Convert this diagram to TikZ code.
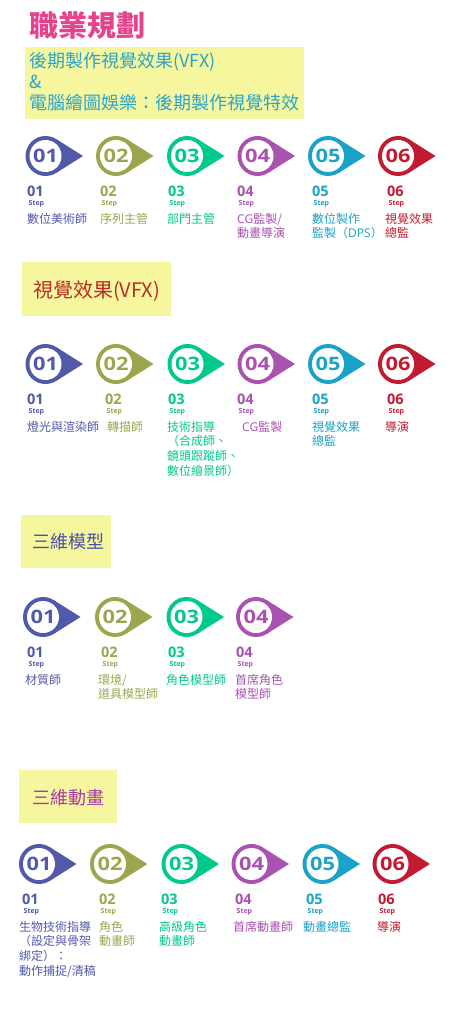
\documentclass[tikz,border=0pt]{standalone}
\usepackage{fontspec}
\newfontfamily\cjk{Noto Sans CJK TC}
\newfontfamily\numf{Open Sans}
\newcommand\lat[1]{{\numf #1}}
\definecolor{cA}{HTML}{5159AA}
\definecolor{cB}{HTML}{9DA64E}
\definecolor{cC}{HTML}{00C98F}
\definecolor{cD}{HTML}{A952B0}
\definecolor{cE}{HTML}{1AA2C8}
\definecolor{cF}{HTML}{C21B31}
\definecolor{hl}{HTML}{F5F69E}
\definecolor{titlepink}{HTML}{E5438D}
\definecolor{vfxteal}{HTML}{2BA4C9}
\definecolor{vfxred}{HTML}{BE2A2A}
\definecolor{modnavy}{HTML}{4850A8}
\definecolor{animplum}{HTML}{A33AA6}
\tikzset{
  ring/.style={circle, minimum size=40pt, inner sep=0pt},
  hole/.style={circle, fill=white, minimum size=32pt, inner sep=0pt},
  bignum/.style={inner sep=0pt, xscale=1.18, font=\numf\bfseries\fontsize{18.5}{18.5}\selectfont},
  lblnum/.style={inner sep=0pt, font=\numf\bfseries\fontsize{14.5}{14.5}\selectfont},
  steplbl/.style={inner sep=0pt, font=\numf\bfseries\fontsize{7}{7}\selectfont},
  job/.style={inner sep=0pt, font=\cjk\fontsize{12}{12}\selectfont},
  hlbox/.style={fill=hl, inner sep=0pt, anchor=north west},
  heading/.style={inner sep=0pt, anchor=base west},
}
% name, circle x, circle y, colour, number, label x, text x, lines
\newcommand\stepitem[8]{%
  \fill[#4] ({#2+10.65},{#3-16.93}) -- ({#2+37.5},#3) -- ({#2+10.65},{#3+16.93}) -- cycle;
  \node[ring, fill=#4] (#1) at (#2,#3) {};
  \node[hole] (#1-in) at (#1) {};
  \node[bignum, text=#4] (#1-n) at (#1) {#5};
  \node[lblnum, text=#4, anchor=west] (#1-l) at (#6,{#3+35}) {#5};
  \node[steplbl, text=#4, anchor=base west] (#1-s) at ({#6+1.5},{#3+49.5}) {Step};
  \foreach \jobline [count=\i] in {#8} {%
    \node[job, text=#4, anchor=base west] (#1-t\i) at (#7,{#3+67+14.7*(\i-1)}) {\jobline};}%
}
\begin{document}
\begin{tikzpicture}[x=1pt,y=-1pt]
\useasboundingbox[fill=white] (0,0) rectangle (470,1024);

% title
\node[inner sep=0pt, anchor=west, text=titlepink, font=\cjk\bfseries\fontsize{29}{29}\selectfont] (title) at (29,25) {職業規劃};

% section 1
\node[hlbox, minimum width=279pt, minimum height=72pt] (box1) at (25,47) {};
\node[heading, text=vfxteal, font=\cjk\fontsize{18}{18}\selectfont] (h1a) at (29,67.5) {後期製作視覺效果(VFX)};
\node[heading, text=vfxteal, font=\cjk\fontsize{18}{18}\selectfont] (h1b) at (29,88.5) {\&};
\node[heading, text=vfxteal, font=\cjk\fontsize{18}{18}\selectfont] (h1c) at (29,110) {電腦繪圖娛樂：後期製作視覺特效};

\stepitem{a1}{45.5}{156}{cA}{01}{27}{27}{數位美術師}
\stepitem{a2}{116}{156}{cB}{02}{100}{100}{序列主管}
\stepitem{a3}{187}{156}{cC}{03}{168}{167}{部門主管}
\stepitem{a4}{257.5}{156}{cD}{04}{237}{237}{\lat{CG}監製/, 動畫導演}
\stepitem{a5}{328}{156}{cE}{05}{312}{312}{數位製作, 監製（\lat{DPS}）}
\stepitem{a6}{398}{156}{cF}{06}{387}{385}{視覺效果, 總監}

% section 2
\node[hlbox, minimum width=149pt, minimum height=54pt] (box2) at (22,262) {};
\node[heading, text=vfxred, font=\cjk\fontsize{20}{20}\selectfont] (h2) at (33,297.6) {視覺效果(VFX)};

\stepitem{b1}{45.5}{364}{cA}{01}{27}{27}{燈光與渲染師}
\stepitem{b2}{116}{364}{cB}{02}{105}{107}{轉描師}
\stepitem{b3}{187.5}{364}{cC}{03}{168}{167}{技術指導, （合成師、, 鏡頭跟蹤師、, 數位繪景師）}
\stepitem{b4}{257.5}{364}{cD}{04}{237}{242}{\lat{CG}監製}
\stepitem{b5}{328}{364}{cE}{05}{312}{312}{視覺效果, 總監}
\stepitem{b6}{398}{364}{cF}{06}{387}{385}{導演}

% section 3
\node[hlbox, minimum width=90pt, minimum height=53pt] (box3) at (21,515) {};
\node[heading, text=modnavy, font=\cjk\fontsize{18}{18}\selectfont] (h3) at (32,548.8) {三維模型};

\stepitem{c1}{43}{617}{cA}{01}{27}{25}{材質師}
\stepitem{c2}{115}{617}{cB}{02}{101}{98}{環境/, 道具模型師}
\stepitem{c3}{186.5}{617}{cC}{03}{168}{166}{角色模型師}
\stepitem{c4}{256}{617}{cD}{04}{236}{235}{首席角色, 模型師}

% section 4
\node[hlbox, minimum width=98pt, minimum height=53pt] (box4) at (19,770) {};
\node[heading, text=animplum, font=\cjk\fontsize{18}{18}\selectfont] (h4) at (32,804.8) {三維動畫};

\stepitem{d1}{39}{864}{cA}{01}{22}{19}{生物技術指導, （設定與骨架, 綁定）：, 動作捕捉/清稿}
\stepitem{d2}{110}{864}{cB}{02}{99}{99}{角色, 動畫師}
\stepitem{d3}{181.5}{864}{cC}{03}{161}{159}{高級角色, 動畫師}
\stepitem{d4}{251.5}{864}{cD}{04}{235}{233}{首席動畫師}
\stepitem{d5}{322.5}{864}{cE}{05}{306}{303}{動畫總監}
\stepitem{d6}{392.5}{864}{cF}{06}{378}{377}{導演}
\end{tikzpicture}
\end{document}
